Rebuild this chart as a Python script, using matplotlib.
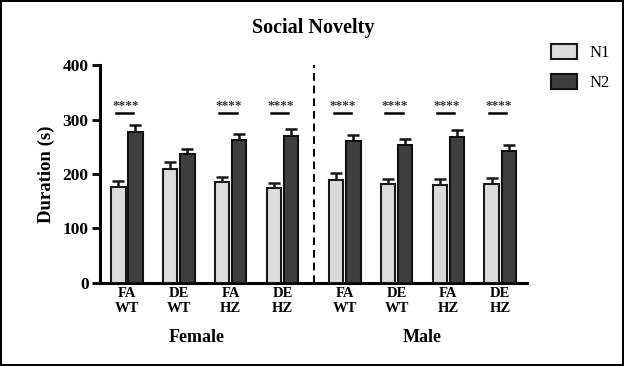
import matplotlib.pyplot as plt
import numpy as np

# Social novelty data (mean duration, SEM)
groups = ["FA\nWT", "DE\nWT", "FA\nHZ", "DE\nHZ", "FA\nWT", "DE\nWT", "FA\nHZ", "DE\nHZ"]
n1_mean = [176, 210, 186, 174, 189, 181, 180, 182]
n1_err = [12, 13, 9, 10, 13, 9, 11, 10]
n2_mean = [278, 236, 263, 269, 261, 253, 268, 243]
n2_err = [12, 10, 10, 14, 11, 12, 13, 11]
sig_groups = [0, 2, 3, 4, 5, 6, 7]
sig_level = 312
sexes = ["Female", "Male"]

plt.rcParams['font.family'] = ['Liberation Serif', 'DejaVu Serif']

fig = plt.figure(figsize=(6.24, 3.66), dpi=100)
fig.patch.set_edgecolor('black')
fig.patch.set_linewidth(1.5)
ax = fig.add_axes([0.160, 0.227, 0.685, 0.595])

# groups 0-3 female, 4-7 male, with a gap for the divider
x = np.array([0, 1, 2, 3, 4.2, 5.2, 6.2, 7.2])
w = 0.28
off = 0.165

ax.bar(x - off, n1_mean, w, color='#dcdcdc', edgecolor='#1a1a1a', linewidth=1.5, label='N1', zorder=3)
ax.bar(x + off, n2_mean, w, color='#3f3f3f', edgecolor='#111111', linewidth=1.5, label='N2', zorder=3)
ax.errorbar(x - off, n1_mean, yerr=[np.zeros(8), n1_err], fmt='none', ecolor='#1a1a1a',
            elinewidth=1.8, capsize=4, capthick=1.8, zorder=2)
ax.errorbar(x + off, n2_mean, yerr=[np.zeros(8), n2_err], fmt='none', ecolor='#111111',
            elinewidth=1.8, capsize=4, capthick=1.8, zorder=2)

# significance markers
for i in sig_groups:
    ax.plot([x[i] - off - 0.05, x[i] + off - 0.05], [sig_level, sig_level], color='black', lw=1.8)
    ax.text(x[i] - 0.03, sig_level + 2, "****", ha='center', va='bottom', fontsize=9.5,
            fontweight='bold', color='#333333')

# divider between sexes
ax.axvline(3.6, ymin=0, ymax=1.0, color='black', linestyle=(0, (4, 2.5)), lw=1.4)

ax.set_ylim(0, 400)
ax.set_xlim(-0.52, 7.72)
ax.set_yticks([0, 100, 200, 300, 400])
ax.set_xticks(x)
ax.set_xticklabels(groups, fontsize=10.5, fontweight='bold', linespacing=1.2)
ax.tick_params(axis='y', labelsize=12.5, width=2, length=6, pad=2)
ax.tick_params(axis='x', length=0, pad=3)
for lbl in ax.get_yticklabels():
    lbl.set_fontweight('bold')

for s in ['top', 'right']:
    ax.spines[s].set_visible(False)
ax.spines['left'].set_linewidth(2.2)
ax.spines['bottom'].set_linewidth(2.2)

ax.set_ylabel("Duration (s)", fontsize=13.5, fontweight='bold')
ax.yaxis.set_label_coords(-0.105, 0.5)
fig.text(0.502, 1 - 28 / 366, "Social Novelty", ha='center', va='center', fontsize=14.5,
         fontweight='bold')

ax.text(1.35, -0.25, sexes[0], transform=ax.get_xaxis_transform(), ha='center', va='center',
        fontsize=13, fontweight='bold')
ax.text(5.7, -0.25, sexes[1], transform=ax.get_xaxis_transform(), ha='center', va='center',
        fontsize=13, fontweight='bold')

ax.legend(loc='upper left', bbox_to_anchor=(1.02, 1.165), frameon=False, fontsize=12,
          handlelength=1.6, handleheight=1.0, labelspacing=0.75, handletextpad=0.7)

plt.savefig('out.png', dpi=100, edgecolor=fig.get_edgecolor())
